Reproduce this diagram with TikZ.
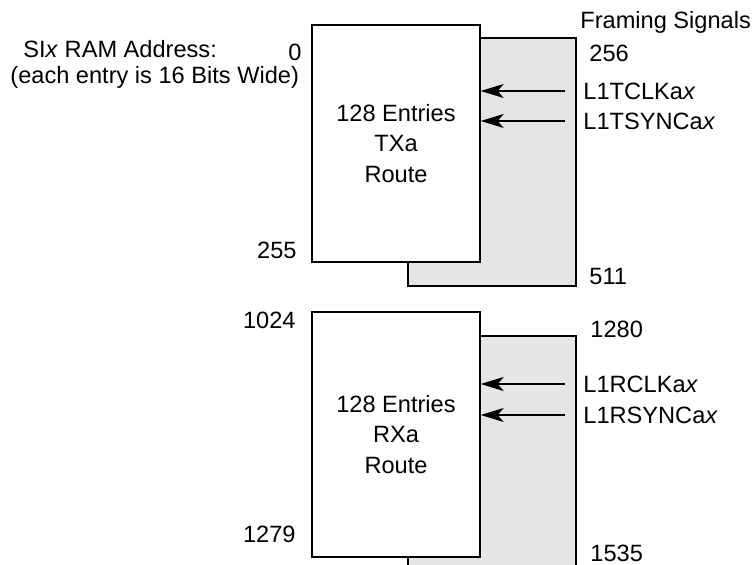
\documentclass[tikz,border=0pt]{standalone}
\usepackage{fontspec}
\setmainfont{Liberation Sans}
\usetikzlibrary{arrows.meta,positioning}

\begin{document}
\begin{tikzpicture}[
  x=0.5pt, y=-0.5pt,
  every node/.style={font=\fontsize{11.8}{15.2}\selectfont},
  front/.style={draw, line width=0.65pt, fill=white, minimum width=84pt,
                align=center, inner sep=0pt},
  back/.style={draw, line width=0.65pt, fill=black!10, minimum width=84pt,
               inner sep=0pt},
  lbl/.style={inner sep=0pt},
  sig/.style={-{Stealth[length=11.5pt, width=7pt, inset=3pt]}, line width=0.6pt}
]
\clip (0,0) rectangle (754,565);
% TX half
\node[back, minimum height=124pt] (txb) at (492,162) {};
\node[front, minimum height=118.5pt] (txa) at (396,143.5) {128 Entries\\TXa\\Route};
% RX half
\node[back, minimum height=122pt] (rxb) at (492,458) {};
\node[front, minimum height=122.5pt] (rxa) at (396,434.5) {128 Entries\\RXa\\Route};
% addresses
\node[lbl, anchor=west] (title) at (23,49) {SI\textit{x} RAM Address:};
\node[lbl, anchor=west] (note) at (10,77) {(each entry is 16 Bits Wide)};
\node[lbl, anchor=east] (a0) at (302,52) {0};
\node[lbl, anchor=east] (a255) at (297,250) {255};
\node[lbl, anchor=east] (a1024) at (296,320) {1024};
\node[lbl, anchor=east] (a1279) at (296,534) {1279};
\node[lbl, anchor=west] (a256) at (589,53) {256};
\node[lbl, anchor=west] (a511) at (589,277) {511};
\node[lbl, anchor=west] (a1280) at (590,329) {1280};
\node[lbl, anchor=west] (a1535) at (590,553) {1535};
% framing signals
\node[lbl, anchor=west] (frm) at (580,22) {Framing Signals};
\node[lbl, anchor=west] (tclk) at (583,91) {L1TCLKa\textit{x}};
\node[lbl, anchor=west] (tsync) at (583,121) {L1TSYNCa\textit{x}};
\node[lbl, anchor=west] (rclk) at (583,384) {L1RCLKa\textit{x}};
\node[lbl, anchor=west] (rsync) at (583,415) {L1RSYNCa\textit{x}};
\draw[sig] ([xshift=-9pt]tclk.west) -- (tclk.west -| txa.east);
\draw[sig] ([xshift=-9pt]tsync.west) -- (tsync.west -| txa.east);
\draw[sig] ([xshift=-9pt]rclk.west) -- (rclk.west -| rxa.east);
\draw[sig] ([xshift=-9pt]rsync.west) -- (rsync.west -| rxa.east);
\end{tikzpicture}
\end{document}
